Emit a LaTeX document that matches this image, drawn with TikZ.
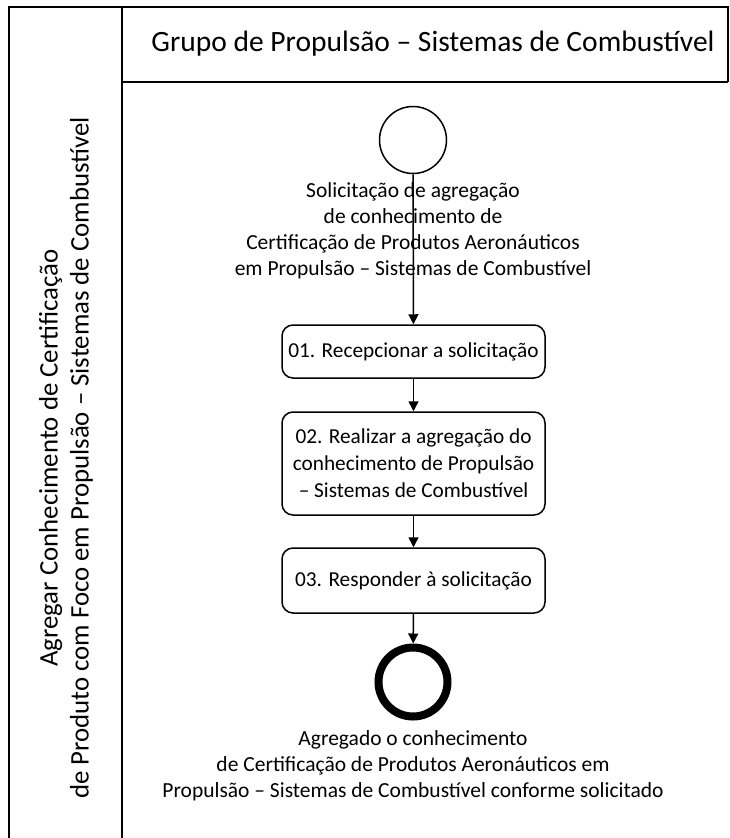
\documentclass[tikz,border=0pt]{standalone}
\usepackage{fontspec}
\setmainfont{Carlito}
\usepackage{tikz}
\usetikzlibrary{arrows.meta}

\tikzset{
  lane/.style={line width=2pt},
  task/.style={draw,line width=1.5pt,rounded corners=11pt,minimum width=263pt,align=center,font=\fontsize{21.3}{27}\selectfont},
  startev/.style={draw,circle,line width=1.5pt,minimum size=67pt,inner sep=0pt},
  endev/.style={draw,circle,line width=8pt,minimum size=69pt,inner sep=0pt},
  evlabel/.style={align=center,font=\fontsize{21.5}{26}\selectfont},
  flow/.style={line width=1.5pt,-{Triangle[length=10pt,width=10pt]}}
}

\begin{document}
\begin{tikzpicture}[x=1pt,y=-1pt]
    \useasboundingbox (0,0) rectangle (729,838);
    % pool and lane
    \draw[lane] (9,838) -- (9,7) -- (728,7) -- (728,82);
    \draw[lane] (122,7) -- (122,838);
    \draw[lane] (122,82) -- (728,82);
    \node[font=\fontsize{29.5}{35}\selectfont] (lanename) at (433,44) {Grupo de Propulsão – Sistemas de Combustível};
    \node[rotate=90,align=center,font=\fontsize{26.8}{31}\selectfont] (poolname) at (66,458)
      {Agregar Conhecimento de Certificação\\de Produto com Foco em Propulsão – Sistemas de Combustível};
    % events and tasks
    \node[startev] (start) at (413,140) {};
    \node[evlabel] (startlbl) at (413,231) {Solicitação de agregação\\de conhecimento de\\Certificação de Produtos Aeronáuticos\\em Propulsão – Sistemas de Combustível};
    \node[task,minimum height=53pt] (t1) at (413.5,351.5) {01. Recepcionar a solicitação};
    \node[task,minimum height=103pt] (t2) at (413.5,463.5) {02. Realizar a agregação do\\conhecimento de Propulsão\\– Sistemas de Combustível};
    \node[task,minimum height=65pt] (t3) at (413.5,580.5) {03. Responder à solicitação};
    \node[endev] (end) at (413,682) {};
    \node[evlabel] (endlbl) at (413,766) {Agregado o conhecimento\\de Certificação de Produtos Aeronáuticos em\\Propulsão – Sistemas de Combustível conforme solicitado};
    % sequence flows
    \draw[flow] (start) -- (t1);
    \draw[flow] (t1) -- (t2);
    \draw[flow] (t2) -- (t3);
    \draw[flow] (t3) -- (end);
\end{tikzpicture}
\end{document}
